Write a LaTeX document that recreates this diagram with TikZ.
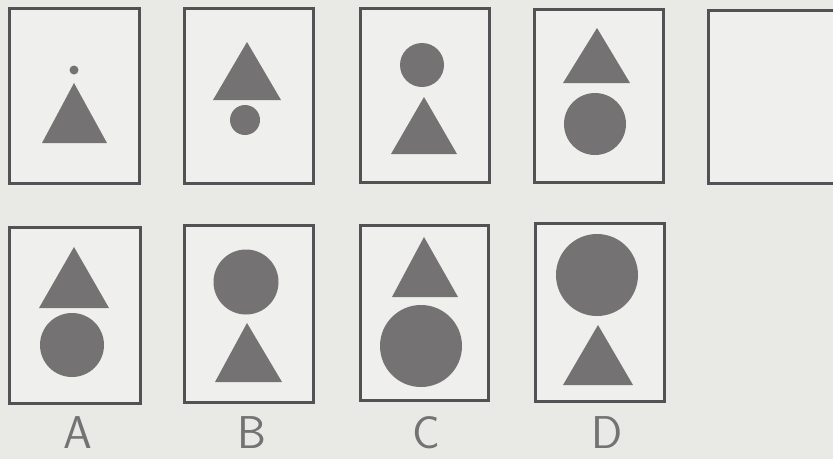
\documentclass[tikz,border=0pt]{standalone}
\usepackage{tikz}
\usetikzlibrary{positioning}

\definecolor{paper}{RGB}{233,233,230}
\definecolor{inner}{RGB}{239,239,237}
\definecolor{frame}{RGB}{82,82,84}
\definecolor{solid}{RGB}{116,114,114}

\begin{document}
\begin{tikzpicture}[x=1pt, y=-1pt,
    panel/.style={draw=frame, fill=inner, line width=3pt},
    piece/.style={fill=solid},
    letter/.style={font=\sffamily\fontsize{46}{46}\selectfont, text=black!55, inner sep=0pt}]
    % page
    \fill[paper] (0,0) rectangle (833,459);
    \useasboundingbox (0,0) rectangle (833,459);

    % top row: the sequence
    \draw[panel] (9,8) rectangle (139,183);
    \fill[piece] (74,70) circle (4.5);
    \fill[piece] (74,83) -- (107,143) -- (42,143) -- cycle;

    \draw[panel] (184,8) rectangle (313,183);
    \fill[piece] (247,42) -- (281,100) -- (213,100) -- cycle;
    \fill[piece] (245,120) circle (15);

    \draw[panel] (360,8) rectangle (489,182);
    \fill[piece] (422,65) circle (22);
    \fill[piece] (424,97) -- (457,154) -- (391,154) -- cycle;

    \draw[panel] (534,9) rectangle (663,182);
    \fill[piece] (597,28) -- (630,83) -- (563,83) -- cycle;
    \fill[piece] (595,124) circle (31);

    % the empty one
    \draw[panel] (708,10) rectangle (840,183);

    % bottom row: the choices
    \draw[panel] (9,227) rectangle (140,403);
    \fill[piece] (74,247) -- (109,308) -- (39,308) -- cycle;
    \fill[piece] (72,345) circle (32);

    \draw[panel] (184,225) rectangle (313,402);
    \fill[piece] (246,282) circle (32.5);
    \fill[piece] (247,323) -- (282,382) -- (215,382) -- cycle;

    \draw[panel] (360,225) rectangle (488,400);
    \fill[piece] (424,237) -- (458,297) -- (392,297) -- cycle;
    \fill[piece] (421,346) circle (41);

    \draw[panel] (535,223) rectangle (664,401);
    \fill[piece] (597,275) circle (41);
    \fill[piece] (598,325) -- (633,385) -- (563,385) -- cycle;

    \node[letter] (lblA) at (78,433) {A};
    \node[letter] (lblB) at (252,433) {B};
    \node[letter] (lblC) at (426,433) {C};
    \node[letter] (lblD) at (607,433) {D};

\end{tikzpicture}
\end{document}
